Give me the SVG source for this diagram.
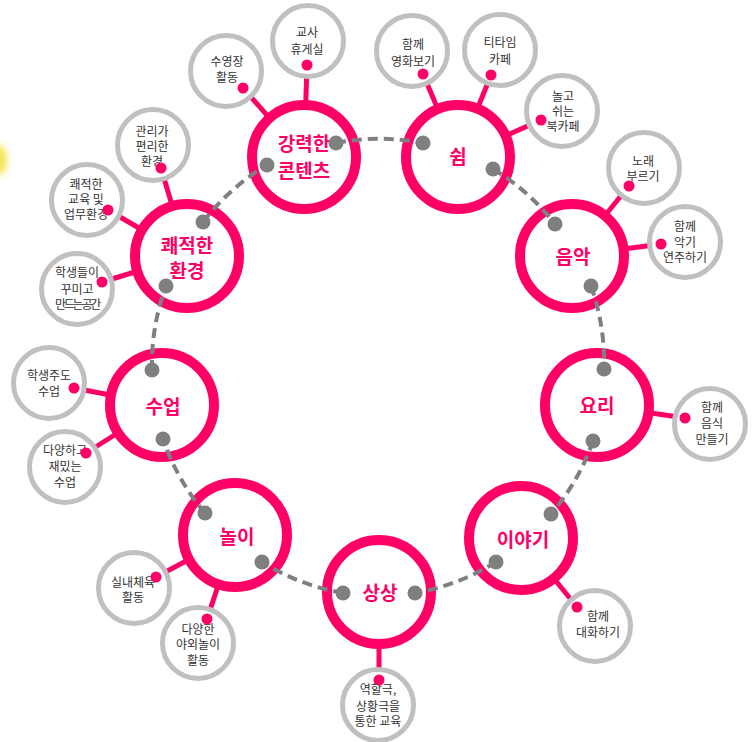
<svg xmlns="http://www.w3.org/2000/svg" width="752" height="742" viewBox="0 0 752 742">
<defs>
<style>
.sat{fill:#fff;stroke:#c0c0c0;stroke-width:5}
.main{fill:#fff;stroke:#ff0066;stroke-width:10}
.link{stroke:#ff0066;stroke-width:5;fill:none}
.pdot{fill:#ff0066}
.gdot{fill:#7f7f7f}
.dash{stroke:#7f7f7f;stroke-width:4;fill:none;stroke-dasharray:10 6}
.st{font-family:"Noto Sans CJK KR","Noto Sans",sans-serif;font-size:12px;fill:#333;text-anchor:middle}
.mt{font-family:"Noto Sans CJK KR","Noto Sans",sans-serif;font-size:19px;font-weight:bold;fill:#ff0066;text-anchor:middle}
</style>
<filter id="blur" x="-1" y="-1" width="3" height="3"><feGaussianBlur stdDeviation="3"/></filter>
</defs>
<rect width="752" height="742" fill="#fff"/>
<ellipse cx="0" cy="160" rx="7" ry="15" fill="#f5e655" filter="url(#blur)"/>

<!-- satellite links -->
<g id="links">
<line class="link" x1="307" y1="65" x2="304" y2="157"/>
<line class="link" x1="243" y1="88" x2="304" y2="157"/>
<line class="link" x1="423" y1="74" x2="458" y2="157"/>
<line class="link" x1="491" y1="75" x2="458" y2="157"/>
<line class="link" x1="541" y1="120" x2="458" y2="157"/>
<line class="link" x1="629" y1="186" x2="572" y2="256"/>
<line class="link" x1="661" y1="244" x2="572" y2="256"/>
<line class="link" x1="685" y1="418" x2="597" y2="405"/>
<line class="link" x1="577" y1="607" x2="521" y2="538"/>
<line class="link" x1="379" y1="680" x2="379" y2="592"/>
<line class="link" x1="207" y1="619" x2="235" y2="535"/>
<line class="link" x1="156" y1="577" x2="235" y2="535"/>
<line class="link" x1="86" y1="453" x2="162" y2="405"/>
<line class="link" x1="74" y1="388" x2="162" y2="405"/>
<line class="link" x1="102" y1="282" x2="187" y2="256"/>
<line class="link" x1="108" y1="210" x2="187" y2="256"/>
<line class="link" x1="161" y1="168" x2="187" y2="256"/>
</g>

<!-- satellites -->
<g id="s-teacher"><circle class="sat" cx="308" cy="41" r="35.5"/><text class="st"><tspan x="307" y="37">교사</tspan><tspan x="307" y="54">휴게실</tspan></text><circle class="pdot" cx="307" cy="65" r="5.5"/></g>
<g id="s-pool"><circle class="sat" cx="226" cy="71" r="35.5"/><text class="st"><tspan x="227" y="66">수영장</tspan><tspan x="227" y="82">활동</tspan></text><circle class="pdot" cx="243" cy="88" r="5.5"/></g>
<g id="s-movie"><circle class="sat" cx="412" cy="51" r="35.5"/><text class="st"><tspan x="413" y="49">함께</tspan><tspan x="413" y="66">영화보기</tspan></text><circle class="pdot" cx="423" cy="74" r="5.5"/></g>
<g id="s-tea"><circle class="sat" cx="500" cy="50" r="35.5"/><text class="st"><tspan x="500" y="47">티타임</tspan><tspan x="500" y="64">카페</tspan></text><circle class="pdot" cx="491" cy="75" r="5.5"/></g>
<g id="s-book"><circle class="sat" cx="562" cy="111" r="35.5"/><text class="st"><tspan x="563" y="101">놀고</tspan><tspan x="563" y="116">쉬는</tspan><tspan x="563" y="131">북카페</tspan></text><circle class="pdot" cx="541" cy="120" r="5.5"/></g>
<g id="s-sing"><circle class="sat" cx="644" cy="168" r="35.5"/><text class="st"><tspan x="643" y="166">노래</tspan><tspan x="643" y="181">부르기</tspan></text><circle class="pdot" cx="629" cy="186" r="5.5"/></g>
<g id="s-inst"><circle class="sat" cx="685" cy="242" r="35.5"/><text class="st"><tspan x="685" y="231">함께</tspan><tspan x="685" y="247">악기</tspan><tspan x="685" y="262">연주하기</tspan></text><circle class="pdot" cx="661" cy="244" r="5.5"/></g>
<g id="s-food"><circle class="sat" cx="710" cy="424" r="35.5"/><text class="st"><tspan x="712" y="412">함께</tspan><tspan x="712" y="428">음식</tspan><tspan x="712" y="444">만들기</tspan></text><circle class="pdot" cx="685" cy="418" r="5.5"/></g>
<g id="s-talk"><circle class="sat" cx="595" cy="626" r="35.5"/><text class="st"><tspan x="598" y="621">함께</tspan><tspan x="598" y="637">대화하기</tspan></text><circle class="pdot" cx="577" cy="607" r="5.5"/></g>
<g id="s-drama"><circle class="sat" cx="378" cy="705" r="35.5"/><text class="st"><tspan x="378" y="694">역할극,</tspan><tspan x="378" y="711">상황극을</tspan><tspan x="378" y="726">통한 교육</tspan></text><circle class="pdot" cx="379" cy="680" r="5.5"/></g>
<g id="s-outdoor"><circle class="sat" cx="198" cy="643" r="35.5"/><text class="st"><tspan x="198" y="634">다양한</tspan><tspan x="198" y="649">야외놀이</tspan><tspan x="198" y="665">활동</tspan></text><circle class="pdot" cx="207" cy="619" r="5.5"/></g>
<g id="s-indoor"><circle class="sat" cx="134" cy="588" r="35.5"/><text class="st"><tspan x="133" y="587">실내체육</tspan><tspan x="133" y="602">활동</tspan></text><circle class="pdot" cx="156" cy="577" r="5.5"/></g>
<g id="s-fun"><circle class="sat" cx="65" cy="467" r="35.5"/><text class="st"><tspan x="65" y="455">다양하고</tspan><tspan x="65" y="471">재밌는</tspan><tspan x="65" y="487">수업</tspan></text><circle class="pdot" cx="86" cy="453" r="5.5"/></g>
<g id="s-lead"><circle class="sat" cx="49" cy="383" r="35.5"/><text class="st"><tspan x="49" y="380">학생주도</tspan><tspan x="49" y="396">수업</tspan></text><circle class="pdot" cx="74" cy="388" r="5.5"/></g>
<g id="s-space"><circle class="sat" cx="77" cy="289" r="35.5"/><text class="st"><tspan x="77" y="277">학생들이</tspan><tspan x="77" y="294">꾸미고</tspan><tspan x="77" y="309" letter-spacing="-2.2">만드는공간</tspan></text><circle class="pdot" cx="102" cy="282" r="5.5"/></g>
<g id="s-work"><circle class="sat" cx="87" cy="200" r="35.5"/><text class="st"><tspan x="86" y="189">쾌적한</tspan><tspan x="86" y="204">교육 및</tspan><tspan x="86" y="219">업무환경</tspan></text><circle class="pdot" cx="108" cy="210" r="5.5"/></g>
<g id="s-manage"><circle class="sat" cx="153" cy="145" r="35.5"/><text class="st"><tspan x="152" y="136">관리가</tspan><tspan x="152" y="151">편리한</tspan><tspan x="152" y="166">환경</tspan></text><circle class="pdot" cx="161" cy="168" r="5.5"/></g>

<!-- main nodes -->
<g id="n-contents"><circle class="main" cx="304" cy="157" r="52"/><text class="mt"><tspan x="304" y="151">강력한</tspan><tspan x="304" y="178">콘텐츠</tspan></text></g>
<g id="n-rest"><circle class="main" cx="458" cy="157" r="52"/><text class="mt" x="458" y="164">쉼</text></g>
<g id="n-music"><circle class="main" cx="572" cy="256" r="52"/><text class="mt" x="573" y="264">음악</text></g>
<g id="n-cook"><circle class="main" cx="597" cy="405" r="52"/><text class="mt" x="597" y="413">요리</text></g>
<g id="n-story"><circle class="main" cx="521" cy="538" r="52"/><text class="mt" x="523" y="547">이야기</text></g>
<g id="n-imagine"><circle class="main" cx="379" cy="592" r="52"/><text class="mt" x="380" y="600">상상</text></g>
<g id="n-play"><circle class="main" cx="235" cy="535" r="52"/><text class="mt" x="237" y="544">놀이</text></g>
<g id="n-class"><circle class="main" cx="162" cy="405" r="52"/><text class="mt" x="163" y="414">수업</text></g>
<g id="n-env"><circle class="main" cx="187" cy="256" r="52"/><text class="mt"><tspan x="187" y="253">쾌적한</tspan><tspan x="187" y="278">환경</tspan></text></g>

<!-- connectors -->
<g id="connectors">
<path class="dash" d="M336 143 A227 227 0 0 1 423 143"/>
<path class="dash" d="M493 169 A227 227 0 0 1 555 224"/>
<path class="dash" d="M591 286 A227 227 0 0 1 604 369"/>
<path class="dash" d="M593 441 A227 227 0 0 1 551 514"/>
<path class="dash" d="M496 562 A227 227 0 0 1 415 593"/>
<path class="dash" d="M343 593 A227 227 0 0 1 262 562"/>
<path class="dash" d="M205 513 A227 227 0 0 1 163 439"/>
<path class="dash" d="M152 370 A227 227 0 0 1 166 286"/>
<path class="dash" d="M203 222 A227 227 0 0 1 267 165"/>
<circle class="gdot" cx="336" cy="143" r="7.5"/><circle class="gdot" cx="267" cy="165" r="7.5"/>
<circle class="gdot" cx="423" cy="143" r="7.5"/><circle class="gdot" cx="493" cy="169" r="7.5"/>
<circle class="gdot" cx="555" cy="224" r="7.5"/><circle class="gdot" cx="591" cy="286" r="7.5"/>
<circle class="gdot" cx="604" cy="369" r="7.5"/><circle class="gdot" cx="593" cy="441" r="7.5"/>
<circle class="gdot" cx="551" cy="514" r="7.5"/><circle class="gdot" cx="496" cy="562" r="7.5"/>
<circle class="gdot" cx="415" cy="593" r="7.5"/><circle class="gdot" cx="343" cy="593" r="7.5"/>
<circle class="gdot" cx="262" cy="562" r="7.5"/><circle class="gdot" cx="205" cy="513" r="7.5"/>
<circle class="gdot" cx="163" cy="439" r="7.5"/><circle class="gdot" cx="152" cy="370" r="7.5"/>
<circle class="gdot" cx="166" cy="286" r="7.5"/><circle class="gdot" cx="203" cy="222" r="7.5"/>
</g>
</svg>
